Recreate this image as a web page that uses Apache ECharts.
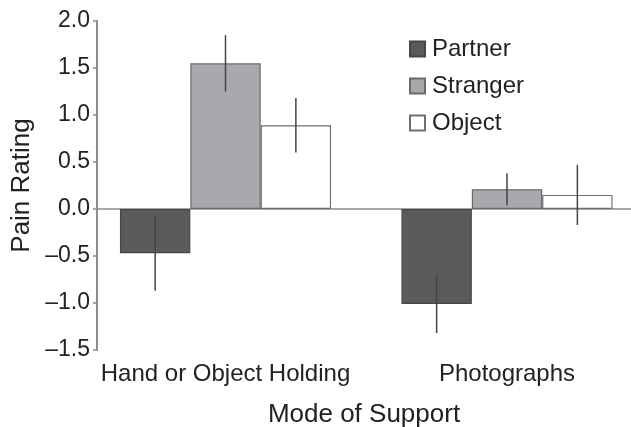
<!DOCTYPE html>
<html>
<head>
<meta charset="utf-8">
<script src="https://cdn.jsdelivr.net/npm/echarts@6/dist/echarts.min.js"></script>
<style>html,body{margin:0;padding:0;background:#fff}#c{width:631px;height:427px}</style>
</head>
<body>
<div id="c"></div>
<script>
const categories = ['Hand or Object Holding', 'Photographs'];
const seriesNames = ['Partner', 'Stranger', 'Object'];
const partnerMeans = [-0.47, -1.01];
const strangerMeans = [1.55, 0.21];
const objectMeans = [0.89, 0.15];
const partnerErr = [0.40, 0.31];
const strangerErr = [0.30, 0.17];
const objectErr = [0.29, 0.32];
const yTicks = [-1.5, -1.0, -0.5, 0.0, 0.5, 1.0, 1.5, 2.0];

const FONT = 'Liberation Sans, Arial, Helvetica, sans-serif';
const means = [partnerMeans, strangerMeans, objectMeans];
const errs = [partnerErr, strangerErr, objectErr];
const fills = ['#5b5b5c', '#a8a9ac', '#ffffff'];
const borders = ['#464646', '#6a6a6a', '#707070'];

// category positions on a value x-axis (index of category)
const X_MIN = -0.4565, X_MAX = 1.4405, BAR_FRAC = 0.25;
const catIdx = categories.map((c, i) => i);

const errData = [];
means.forEach((m, k) => m.forEach((v, i) => errData.push([i, v, errs[k][i], k])));

function renderErr(params, api) {
  const c = api.value(0), v = api.value(1), e = api.value(2), k = api.value(3);
  const w = api.size([BAR_FRAC, 0])[0];
  const off = (k - 1) * w;
  const p1 = api.coord([c, v + e]);
  const p2 = api.coord([c, v - e]);
  const x = p1[0] + off;
  return {
    type: 'line',
    shape: { x1: x, y1: p1[1], x2: x, y2: p2[1] },
    style: { stroke: '#444', lineWidth: 1.5 }
  };
}

const fmt = v => (v < 0 ? '\u2013' : '') + Math.abs(v).toFixed(1);
const catFmt = v => {
  const r = Math.round(v);
  return categories[r] !== undefined ? categories[r] : '';
};

const chart = echarts.init(document.getElementById('c'), null, { renderer: 'canvas' });
const gridW = 631 - 97;
const barPx = BAR_FRAC * gridW / (X_MAX - X_MIN);
chart.setOption({
  animation: false,
  backgroundColor: '#fff',
  textStyle: { fontFamily: FONT },
  grid: { left: 97, right: 0, top: 21, bottom: 77, containLabel: false, outerBoundsMode: 'none' },
  legend: {
    data: seriesNames,
    orient: 'vertical',
    left: 409, top: 37,
    padding: 0,
    itemWidth: 15, itemHeight: 15,
    itemGap: 13,
    icon: 'rect',
    textStyle: { fontSize: 24, color: '#222', lineHeight: 23, fontFamily: FONT, padding: [0, 0, 0, 2] }
  },
  xAxis: [
    {
      type: 'value', min: X_MIN, max: X_MAX,
      axisLine: { show: true, onZero: true, lineStyle: { color: '#8c8c8c', width: 1.5 } },
      axisTick: { show: false },
      axisLabel: { show: false },
      splitLine: { show: false }
    },
    {
      type: 'value', min: X_MIN, max: X_MAX, position: 'bottom',
      axisLine: { show: false, onZero: false },
      axisTick: { show: false },
      splitLine: { show: false },
      axisLabel: { fontSize: 24, color: '#222', margin: 12, fontFamily: FONT, formatter: catFmt, customValues: catIdx, hideOverlap: false },
      name: 'Mode of Support', nameLocation: 'middle', nameGap: 52,
      nameTextStyle: { fontSize: 26, color: '#222', fontFamily: FONT }
    }
  ],
  yAxis: {
    type: 'value', min: -1.5, max: 2, interval: 0.5,
    axisLine: { show: true, onZero: false, lineStyle: { color: '#8c8c8c', width: 2 } },
    axisTick: { show: true, length: 4, lineStyle: { color: '#8c8c8c', width: 1.5 } },
    axisLabel: { fontSize: 23, color: '#222', margin: 7, formatter: fmt, fontFamily: FONT },
    splitLine: { show: false },
    name: 'Pain Rating', nameLocation: 'middle', nameRotate: 90, nameGap: 58,
    nameTextStyle: { fontSize: 26, color: '#222', fontFamily: FONT }
  },
  series: seriesNames.map((n, k) => ({
    name: n, type: 'bar', xAxisIndex: 0,
    data: means[k].map((v, i) => [i, v]),
    barWidth: barPx, barGap: '0%',
    itemStyle: { color: fills[k], borderColor: borders[k], borderWidth: 1.2 },
    z: 2
  })).concat([{
    type: 'custom', name: 'err', xAxisIndex: 0,
    renderItem: renderErr, data: errData, z: 5, silent: true
  }])
});
</script>
</body>
</html>
